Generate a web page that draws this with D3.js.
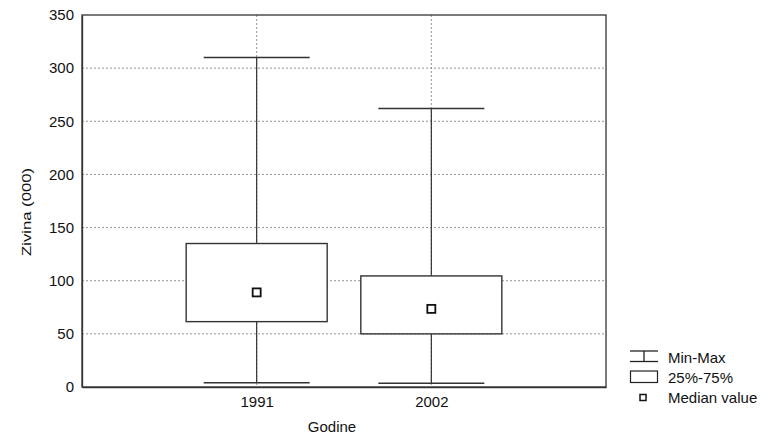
<!DOCTYPE html>
<html>
<head>
<meta charset="utf-8">
<script src="https://cdn.jsdelivr.net/npm/d3@7"></script>
<style>
  html, body { margin: 0; padding: 0; background: #fff; }
  svg { display: block; }
  text { font-family: "Liberation Sans", Arial, sans-serif; fill: #111; }
</style>
</head>
<body>
<svg id="chart" width="768" height="435"></svg>
<script>
// ---- data ----
const categories = ["1991", "2002"];
const minValues = [4, 3.5];
const q1Values = [61.5, 50];
const medianValues = [89, 73.5];
const q3Values = [135, 104.5];
const maxValues = [310, 262];
const yTicks = [0, 50, 100, 150, 200, 250, 300, 350];
const legendLabels = ["Min-Max", "25%-75%", "Median value"];
const xTitle = "Godine";
const yTitle = "Zivina (000)";

// ---- layout ----
const svg = d3.select("#chart");
const L = 82, R = 606, T = 15, B = 387;
const boxW = 141, capW = 106, medS = 8;
const fontStack = "'Liberation Sans', Arial, sans-serif";

const x = d3.scalePoint().domain(categories).range([L, R]).padding(1);
const y = d3.scaleLinear().domain([0, 350]).range([B, T]);

// gridlines (horizontal)
svg.append("g").selectAll("line")
  .data(yTicks.filter(d => d > 0 && d < 350))
  .join("line")
  .attr("x1", L).attr("x2", R)
  .attr("y1", d => y(d)).attr("y2", d => y(d))
  .attr("stroke", "#777").attr("stroke-width", 0.8)
  .attr("stroke-dasharray", "2,2");

// gridlines (vertical at categories)
svg.append("g").selectAll("line")
  .data(categories)
  .join("line")
  .attr("x1", d => x(d)).attr("x2", d => x(d))
  .attr("y1", T).attr("y2", B)
  .attr("stroke", "#777").attr("stroke-width", 0.8)
  .attr("stroke-dasharray", "2,2");

// frame
svg.append("rect")
  .attr("x", L).attr("y", T).attr("width", R - L).attr("height", B - T)
  .attr("fill", "none").attr("stroke", "#333").attr("stroke-width", 1.3);

// y axis
const yAxis = svg.append("g")
  .attr("transform", `translate(${L},0)`)
  .call(d3.axisLeft(y).tickValues(yTicks).tickSize(0).tickPadding(8));
yAxis.select(".domain").attr("stroke", "#333").attr("stroke-width", 1.3);
yAxis.selectAll("text").style("font-size", "15px").attr("fill", "#111")
  .style("font-family", fontStack);

// x axis
const xAxis = svg.append("g")
  .attr("transform", `translate(0,${B})`)
  .call(d3.axisBottom(x).tickSize(0).tickPadding(9));
xAxis.select(".domain").attr("stroke", "#333").attr("stroke-width", 1.3);
xAxis.selectAll("text").style("font-size", "15px").attr("fill", "#111")
  .style("font-family", fontStack);

// boxes
const g = svg.append("g");
categories.forEach((c, i) => {
  const cx = x(c);
  g.append("line").attr("x1", cx).attr("x2", cx)
    .attr("y1", y(maxValues[i])).attr("y2", y(q3Values[i]))
    .attr("stroke", "#333").attr("stroke-width", 1.2);
  g.append("line").attr("x1", cx).attr("x2", cx)
    .attr("y1", y(q1Values[i])).attr("y2", y(minValues[i]))
    .attr("stroke", "#333").attr("stroke-width", 1.2);
  [maxValues[i], minValues[i]].forEach(v => {
    g.append("line").attr("x1", cx - capW / 2).attr("x2", cx + capW / 2)
      .attr("y1", y(v)).attr("y2", y(v))
      .attr("stroke", "#333").attr("stroke-width", 1.4);
  });
  g.append("rect")
    .attr("x", cx - boxW / 2).attr("width", boxW)
    .attr("y", y(q3Values[i])).attr("height", y(q1Values[i]) - y(q3Values[i]))
    .attr("fill", "#fff").attr("stroke", "#333").attr("stroke-width", 1.4);
  g.append("rect")
    .attr("x", cx - medS / 2).attr("y", y(medianValues[i]) - medS / 2)
    .attr("width", medS).attr("height", medS)
    .attr("fill", "#fff").attr("stroke", "#111").attr("stroke-width", 1.8);
});

// titles
svg.append("text").attr("x", 332).attr("y", 432)
  .attr("text-anchor", "middle").style("font-size", "15px").text(xTitle);
svg.append("text")
  .attr("transform", "translate(31,212) rotate(-90)")
  .attr("text-anchor", "middle").style("font-size", "13px")
  .attr("textLength", 88).attr("lengthAdjust", "spacingAndGlyphs")
  .text(yTitle);

// legend
const lg = svg.append("g");
lg.append("line").attr("x1", 630).attr("x2", 658).attr("y1", 351).attr("y2", 351)
  .attr("stroke", "#222").attr("stroke-width", 1.3);
lg.append("line").attr("x1", 630).attr("x2", 658).attr("y1", 361.5).attr("y2", 361.5)
  .attr("stroke", "#222").attr("stroke-width", 1.3);
lg.append("line").attr("x1", 644).attr("x2", 644).attr("y1", 351).attr("y2", 361.5)
  .attr("stroke", "#222").attr("stroke-width", 1.3);
lg.append("rect").attr("x", 630.5).attr("y", 371).attr("width", 27).attr("height", 11.5)
  .attr("fill", "#fff").attr("stroke", "#222").attr("stroke-width", 1.2);
lg.append("rect").attr("x", 640).attr("y", 394.5).attr("width", 6).attr("height", 6)
  .attr("fill", "#fff").attr("stroke", "#111").attr("stroke-width", 1.5);
const lgY = [362.5, 383, 403];
legendLabels.forEach((t, i) => {
  lg.append("text").attr("x", 668).attr("y", lgY[i])
    .style("font-size", "15px").text(t);
});
</script>
</body>
</html>
